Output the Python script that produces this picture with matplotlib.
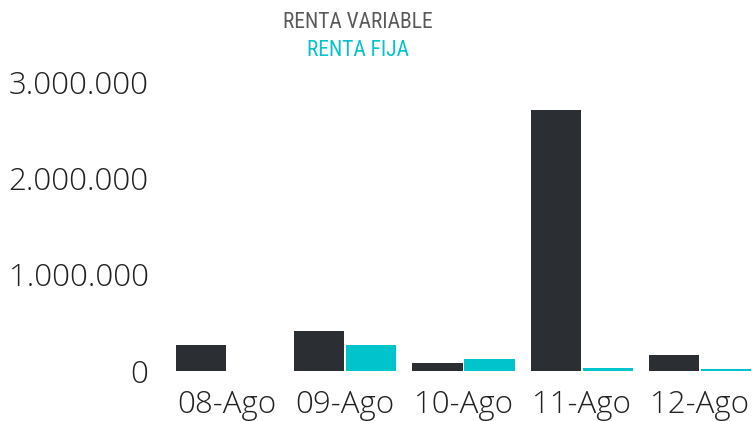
import numpy as np
import matplotlib
matplotlib.use("Agg")
import matplotlib.pyplot as plt
from matplotlib import font_manager

fechas = ["08-Ago", "09-Ago", "10-Ago", "11-Ago", "12-Ago"]
renta_variable = [270000, 415000, 85000, 2700000, 165000]
renta_fija = [0, 270000, 125000, 30000, 20000]
y_ticks = [0, 1000000, 2000000, 3000000]
y_labels = ["0", "1.000.000", "2.000.000", "3.000.000"]

dark = "#2b2f33"
teal = "#00c3cc"

# condensed face for the legend, if one is around
names = set(f.name for f in font_manager.fontManager.ttflist)
leg_family = ["DejaVu Sans"]
for n in ["Liberation Sans Narrow", "Roboto Condensed", "Open Sans Condensed"]:
    if n in names:
        leg_family = [n, "DejaVu Sans"]
        break

fig = plt.figure(figsize=(7.52, 4.21), dpi=100)
ax = fig.add_axes([168/752, 50/421, 591/752, 311/421])

x = np.arange(len(fechas))
w = 0.425
ax.bar(x - w/2 - 0.008, renta_variable, w, color=dark)
ax.bar(x + w/2 + 0.008, renta_fija, w, color=teal)

ax.set_xlim(-0.5, 4.5)
# 0 sits on the axes bottom, about 96.5 px per million
ax.set_ylim(0, 311 / 96.5e-6)
ax.set_yticks(y_ticks)
ax.set_yticklabels(y_labels)
ax.set_xticks(x)
ax.set_xticklabels(fechas)

for s in ax.spines.values():
    s.set_visible(False)
ax.tick_params(length=0, labelsize=22.5, labelcolor="#222222")
ax.tick_params(axis="y", pad=14)
ax.tick_params(axis="x", pad=13)
for lab in ax.get_xticklabels() + ax.get_yticklabels():
    lab.set_family(["Open Sans", "DejaVu Sans"])
    lab.set_fontweight("light")

fig.text(358/752, 1 - 22/421, "RENTA VARIABLE", ha="center", va="center",
         fontsize=15.5, color="#5a5a5a", family=leg_family, fontstretch="condensed")
fig.text(358/752, 1 - 50/421, "RENTA FIJA", ha="center", va="center",
         fontsize=15.5, color=teal, family=leg_family, fontstretch="condensed")

fig.savefig("out.png", dpi=100)
